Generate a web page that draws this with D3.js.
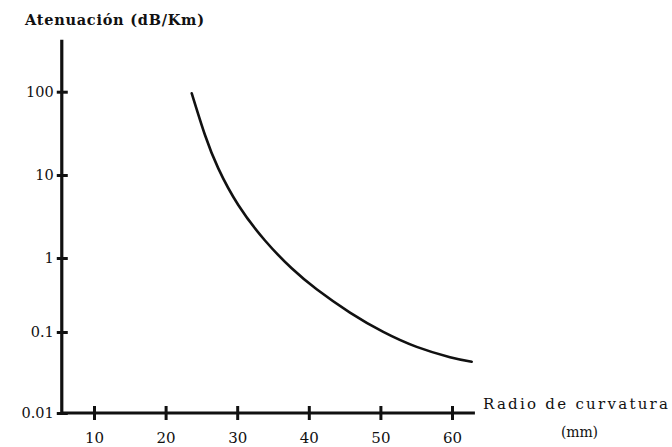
<!DOCTYPE html>
<html>
<head>
<meta charset="utf-8">
<script src="https://cdn.jsdelivr.net/npm/d3@7"></script>
<style>
  html, body { margin: 0; padding: 0; background: #fff; }
  svg text { font-family: "DejaVu Serif", "Liberation Serif", serif; fill: #111; }
</style>
</head>
<body>
<svg id="chart" width="672" height="447"></svg>
<script>
(function () {
    'use strict';

    // radio de curvatura (mm) vs atenuacion (dB/Km)
    const radio = [23.65, 25.5, 27.36, 30.15, 33.88, 37.61, 41.1, 45.75, 50.4, 55.07, 59.72, 62.75];
    const atenuacion = [95.7, 30.2, 12.0, 4.35, 1.625, 0.726, 0.378, 0.183, 0.1003, 0.0655, 0.0489, 0.0429];

    const x_ti = [10, 20, 30, 40, 50, 60];
    const y_ti = [0.01, 0.1, 1, 10, 100];
    const y_la = ['0.01', '0.1', '1', '10', '100'];
    const x_ex = [5.5, 63.2];   // extent of the drawn x axis

    const sv = d3.select('#chart');
    const ink = '#111';

    const x_sc = d3.scaleLinear().domain([10, 60]).range([94, 452]);
    // the typed scale is not quite even between decades, follow its ticks
    const y_sc = d3.scaleLog()
        .domain([0.01, 0.1, 1, 10, 100])
        .range([413, 332, 258, 175, 91.7]);

    const x0 = x_sc(x_ex[0]);
    const y0 = y_sc(0.01);

    // axes (L shape)
    sv.append('path')
        .attr('d', `M${x0},${y_sc(100) - 52}L${x0},${y0}L${x_sc(x_ex[1])},${y0}`)
        .attr('fill', 'none')
        .attr('stroke', ink)
        .attr('stroke-width', 3.2)
        .attr('stroke-linejoin', 'round');

    const x_ax = d3.axisBottom(x_sc).tickValues(x_ti).tickSize(7);
    const gx = sv.append('g')
        .attr('transform', `translate(0,${y0})`)
        .call(x_ax);
    gx.select('.domain').remove();
    gx.selectAll('line').attr('y1', -7).attr('y2', 7).attr('stroke', ink).attr('stroke-width', 3);
    gx.selectAll('text')
        .style('font-size', '15px')
        .attr('dy', null)
        .attr('y', 30);

    const y_ax = d3.axisLeft(y_sc).tickValues(y_ti).tickFormat((d, i) => y_la[i]).tickSize(5).tickPadding(3);
    const gy = sv.append('g')
        .attr('transform', `translate(${x0},0)`)
        .call(y_ax);
    gy.select('.domain').remove();
    gy.selectAll('line').attr('x1', -5).attr('x2', 6).attr('stroke', ink).attr('stroke-width', 3);
    gy.selectAll('text').style('font-size', '14.5px');

    // curve
    const pts = radio.map((r, i) => [r, atenuacion[i]]);
    const ln = d3.line()
        .x(d => x_sc(d[0]))
        .y(d => y_sc(d[1]))
        .curve(d3.curveNatural);
    sv.append('path')
        .datum(pts)
        .attr('d', ln)
        .attr('fill', 'none')
        .attr('stroke', ink)
        .attr('stroke-width', 2.6)
        .attr('stroke-linecap', 'round');

    // labels
    sv.append('text')
        .attr('x', 25)
        .attr('y', 25)
        .attr('textLength', 179)
        .attr('lengthAdjust', 'spacing')
        .style('font-size', '14.5px')
        .style('font-weight', 'bold')
        .text('Atenuación (dB/Km)');

    sv.append('text')
        .attr('x', 483)
        .attr('y', 409)
        .attr('textLength', 185)
        .attr('lengthAdjust', 'spacing')
        .style('font-size', '15px')
        .text('Radio de curvatura');

    sv.append('text')
        .attr('x', 561)
        .attr('y', 437)
        .attr('textLength', 37)
        .attr('lengthAdjust', 'spacing')
        .style('font-size', '14px')
        .text('(mm)');
})();
</script>
</body>
</html>
